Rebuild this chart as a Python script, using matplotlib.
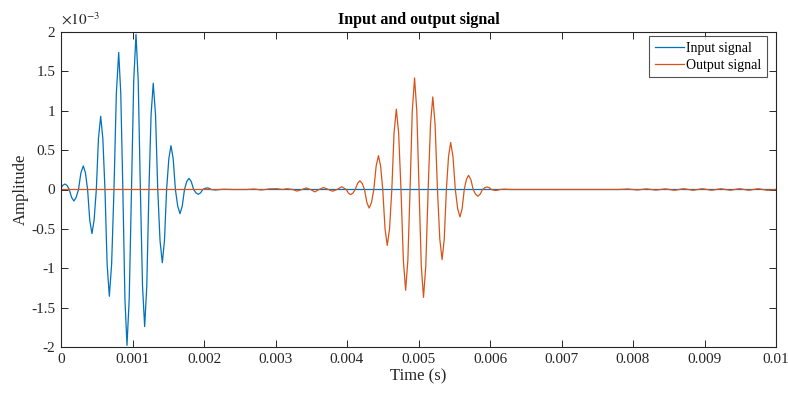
import matplotlib
matplotlib.use("Agg")
import matplotlib.pyplot as plt
import numpy as np

# Input signal samples (time in ms, amplitude in 1e-3 units)
input_t_ms = [0.0, 0.028, 0.056, 0.086, 0.115,
              0.148, 0.18, 0.212, 0.245,
              0.278, 0.312, 0.342, 0.372,
              0.402, 0.433, 0.463, 0.494,
              0.524, 0.555, 0.585, 0.615,
              0.645, 0.676, 0.708, 0.741,
              0.774, 0.807, 0.836, 0.865,
              0.894, 0.923, 0.954, 0.986,
              1.017, 1.049, 1.08, 1.11,
              1.14, 1.17, 1.20, 1.23,
              1.26, 1.29, 1.322, 1.353,
              1.385, 1.417, 1.447, 1.477,
              1.508, 1.538, 1.569, 1.60,
              1.632, 1.664, 1.696, 1.727,
              1.758, 1.79, 1.822, 1.855,
              1.888, 1.92, 1.952, 1.983,
              2.015, 2.046, 2.073, 2.10,
              2.16, 2.22, 2.28, 2.40, 10.0]
input_v = [0.02, 0.055, 0.07, 0.05, 0.0,
           -0.10, -0.146, -0.10, 0.0,
           0.21, 0.30, 0.21, 0.0,
           -0.39, -0.56, -0.39, 0.0,
           0.65, 0.93, 0.65, 0.0,
           -0.95, -1.356, -0.95, 0.0,
           1.22, 1.74, 1.22, 0.0,
           -1.39, -1.98, -1.39, 0.0,
           1.38, 1.97, 1.38, 0.0,
           -1.22, -1.74, -1.22, 0.0,
           0.95, 1.35, 0.95, 0.0,
           -0.65, -0.93, -0.65, 0.0,
           0.39, 0.557, 0.39, 0.0,
           -0.21, -0.306, -0.21, 0.0,
           0.10, 0.142, 0.10, 0.0,
           -0.043, -0.061, -0.043, 0.0,
           0.014, 0.02, 0.014, 0.0,
           -0.006, 0.0, 0.003, 0.0, 0.0]

# Output signal samples (time in ms, amplitude in 1e-3 units)
output_t_ms = [0.0, 2.60, 2.70, 2.80, 2.92, 3.02, 3.10, 3.16, 3.24, 3.30, 3.37,
               3.43, 3.49, 3.55, 3.61, 3.67, 3.74, 3.80, 3.86, 3.926, 3.99,
               4.02, 4.05, 4.082, 4.115,
               4.148, 4.18, 4.212, 4.245,
               4.278, 4.31, 4.342, 4.375,
               4.408, 4.44, 4.47, 4.50,
               4.532, 4.563, 4.595, 4.627,
               4.658, 4.69, 4.722, 4.755,
               4.788, 4.82, 4.851, 4.882,
               4.913, 4.945, 4.976, 5.008,
               5.039, 5.07, 5.102, 5.135,
               5.168, 5.20, 5.232, 5.265,
               5.298, 5.33, 5.36, 5.39,
               5.42, 5.45, 5.482, 5.515,
               5.548, 5.58, 5.61, 5.64,
               5.67, 5.70, 5.732, 5.765,
               5.798, 5.83, 5.862, 5.895,
               5.928, 5.96, 5.99, 6.02,
               6.05, 6.08, 6.11, 6.14,
               6.20, 6.30, 7.80, 7.93, 8.06, 8.19, 8.32,
               8.45, 8.58, 8.71, 8.84, 8.97, 9.10, 9.23, 9.36, 9.49, 9.62, 9.75,
               9.88, 10.0]
output_v = [0.0, 0.0, 0.006, -0.006, 0.008, 0.01, 0.0, 0.01, 0.0, -0.02, 0.0,
            0.02, 0.0, -0.03, 0.0, 0.025, 0.0, -0.022, 0.0, 0.035, 0.0,
            -0.046, -0.065, -0.046, 0.0,
            0.078, 0.11, 0.078, 0.0,
            -0.166, -0.235, -0.166, 0.0,
            0.30, 0.43, 0.30, 0.0,
            -0.50, -0.71, -0.50, 0.0,
            0.72, 1.02, 0.72, 0.0,
            -0.90, -1.28, -0.90, 0.0,
            1.0, 1.417, 1.0, 0.0,
            -0.97, -1.37, -0.97, 0.0,
            0.83, 1.176, 0.83, 0.0,
            -0.63, -0.89, -0.63, 0.0,
            0.42, 0.597, 0.42, 0.0,
            -0.246, -0.348, -0.246, 0.0,
            0.127, 0.18, 0.127, 0.0,
            -0.06, -0.085, -0.06, 0.0,
            0.023, 0.033, 0.023, 0.0,
            -0.008, -0.012, -0.008, 0.0,
            0.004, 0.0, 0.0, 0.006, -0.006, 0.008,
            -0.008, 0.008, -0.01, 0.01, -0.01, 0.01, -0.01, 0.01, -0.01, 0.01,
            -0.01, 0.01, -0.01, 0.0]

xticks = [0, 0.001, 0.002, 0.003, 0.004, 0.005, 0.006, 0.007, 0.008, 0.009, 0.01]
xticklabels = ["0", "0.001", "0.002", "0.003", "0.004", "0.005", "0.006",
               "0.007", "0.008", "0.009", "0.01"]
yticks_e3 = [-2, -1.5, -1, -0.5, 0, 0.5, 1, 1.5, 2]
yticklabels = ["-2", "-1.5", "-1", "-0.5", "0", "0.5", "1", "1.5", "2"]

plt.rcParams["font.family"] = ["Liberation Serif", "DejaVu Serif"]
plt.rcParams["mathtext.fontset"] = "stix"
plt.rcParams["axes.unicode_minus"] = False

blue = "#0072BD"
orange = "#D95319"
axcol = "#262626"

fig = plt.figure(figsize=(7.88, 3.94), dpi=100)
ax = fig.add_axes([61 / 788, 1 - 347 / 394, (776 - 61) / 788, (347 - 32) / 394])

ax.plot(np.array(input_t_ms) * 1e-3, np.array(input_v) * 1e-3, color=blue,
        lw=0.9, label="Input signal")
ax.plot(np.array(output_t_ms) * 1e-3, np.array(output_v) * 1e-3, color=orange,
        lw=0.9, label="Output signal")

ax.set_xlim(0, 0.01)
ax.set_ylim(-2e-3, 2e-3)
ax.set_xticks(xticks)
ax.set_xticklabels(xticklabels)
ax.set_yticks(np.array(yticks_e3) * 1e-3)
ax.set_yticklabels(yticklabels)

ax.tick_params(direction="in", length=5, width=0.7, colors=axcol,
               labelsize=11, top=True, right=True, labelcolor=axcol, pad=4)
for s in ax.spines.values():
    s.set_color(axcol)
    s.set_linewidth(0.8)

ax.text(0.0, 1.015, r"$\times10^{-3}$", transform=ax.transAxes, fontsize=11,
        color=axcol, ha="left", va="bottom")

ax.set_title("Input and output signal", fontsize=11.5, fontweight="bold",
             color="black", pad=6)
ax.set_xlabel("Time (s)", fontsize=12, color=axcol, labelpad=2)
ax.set_ylabel("Amplitude", fontsize=12, color=axcol, labelpad=2)

leg = ax.legend(loc="upper right", bbox_to_anchor=(767 / 788, 1 - 36 / 394),
                bbox_transform=fig.transFigure, fontsize=10, frameon=True,
                fancybox=False, edgecolor=axcol, handlelength=2.1,
                handletextpad=0.15, borderpad=0.4, labelspacing=0.3,
                borderaxespad=0.0)
leg.get_frame().set_linewidth(0.8)

fig.savefig("out.png", dpi=100)
